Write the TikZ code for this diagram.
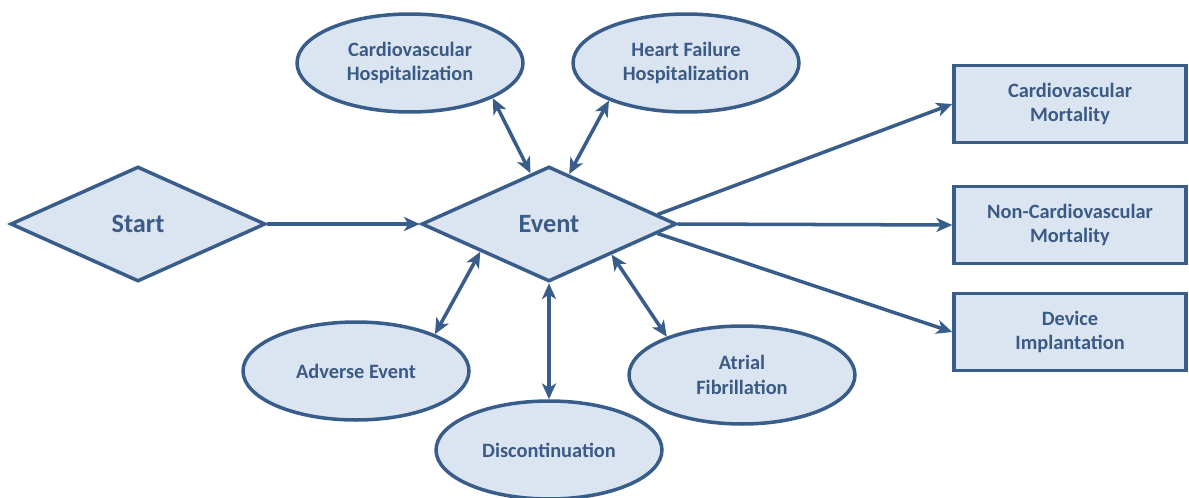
\documentclass[tikz,border=0pt]{standalone}
\usepackage{fontspec}
\setmainfont{Carlito}
\usetikzlibrary{shapes.geometric,arrows.meta}
\definecolor{edgeblue}{HTML}{385D8A}
\definecolor{fillblue}{HTML}{DBE5F1}
\definecolor{textblue}{HTML}{3B5A85}

\begin{document}
\begin{tikzpicture}[
  x=0.02cm, y=-0.02cm,
  shape base/.style={draw=edgeblue, fill=fillblue, line width=2pt, inner sep=0pt, align=center, text=textblue},
  dia/.style={shape base, diamond, minimum width=5.1cm, minimum height=2.3cm, font=\fontsize{15}{18}\selectfont\bfseries},
  oval/.style={shape base, ellipse, minimum width=4.52cm, minimum height=1.96cm, font=\fontsize{11.6}{14}\selectfont\bfseries},
  outcome/.style={shape base, rectangle, minimum width=4.64cm, minimum height=1.54cm, font=\fontsize{11.6}{14}\selectfont\bfseries},
  link/.style={draw=edgeblue, line width=2pt, -{Stealth[length=9pt,width=8pt,inset=2.5pt]}},
  twoway/.style={link, {Stealth[length=9pt,width=8pt,inset=2.5pt]}-{Stealth[length=9pt,width=8pt,inset=2.5pt]}}
]
\useasboundingbox (0,0) rectangle (1189,497);

% decision shapes
\node[dia] (start) at (138,224) {Start};
\node[dia] (event) at (549,224) {Event};

% events that loop back
\node[oval] (cvh) at (410,63) {Cardiovascular\\Hospitalization};
\node[oval] (hfh) at (686,63) {Heart Failure\\Hospitalization};
\node[oval] (adv) at (356,371) {Adverse Event};
\node[oval] (disc) at (549,450) {Discontinuation};
\node[oval] (af) at (742,375) {Atrial\\Fibrillation};

% end points
\node[outcome] (cvm) at (1070,104) {Cardiovascular\\Mortality};
\node[outcome] (ncvm) at (1070,225) {Non-Cardiovascular\\Mortality};
\node[outcome] (dev) at (1070,332) {Device\\Implantation};

\draw[link] (start.east) -- (event.west);
\draw[twoway] (cvh.-23) -- (event.110);
\draw[twoway] (hfh.206) -- (event.68);
\draw[twoway] (adv.25) -- (event.202);
\draw[twoway] (disc.north) -- (event.south);
\draw[twoway] (af.153) -- (event.-26);
\draw[link] (event.5) -- (cvm.west);
\draw[link] (event.east) -- (ncvm.west);
\draw[link] (event.-5) -- (dev.west);
\end{tikzpicture}
\end{document}
